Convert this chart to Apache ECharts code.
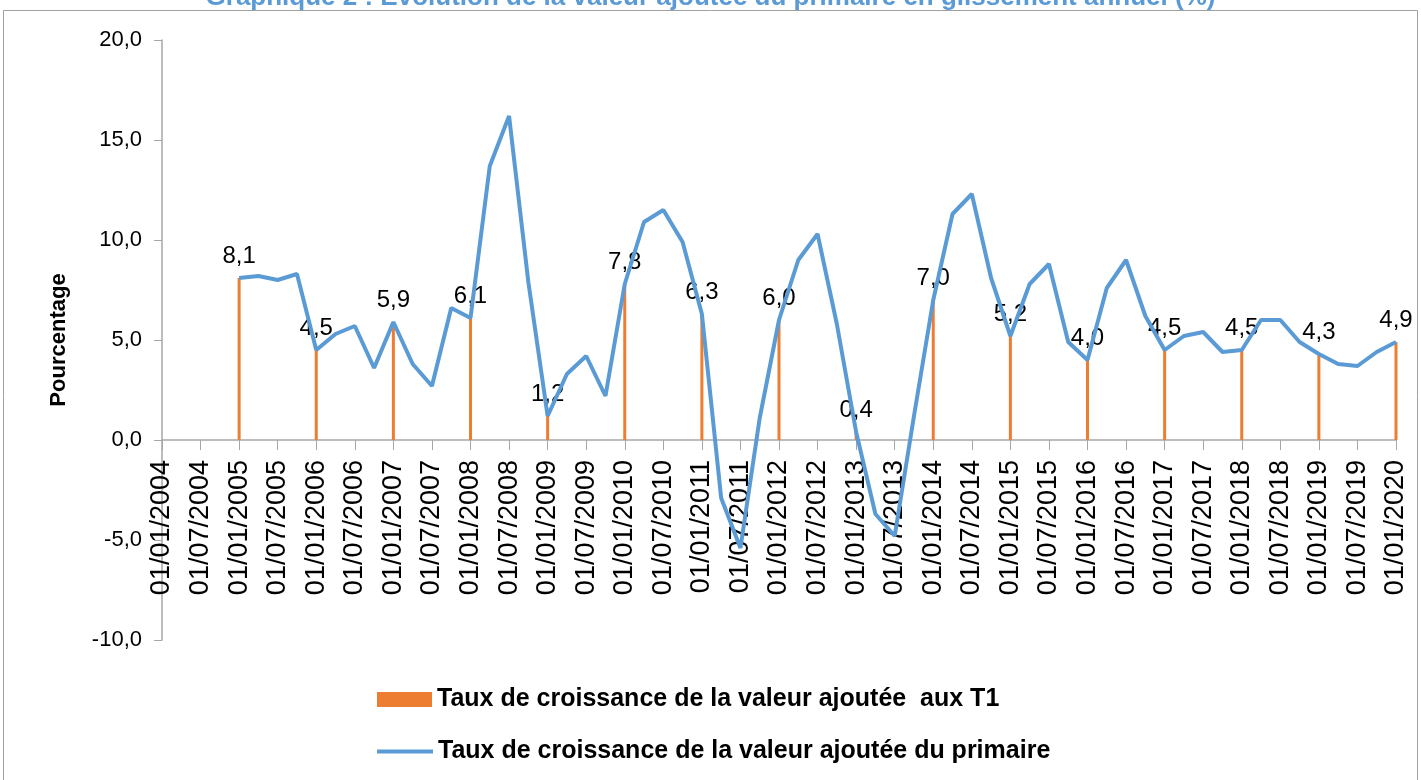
<!DOCTYPE html>
<html>
<head>
<meta charset="utf-8">
<title>Graphique 2</title>
<script src="https://cdn.jsdelivr.net/npm/echarts@6/dist/echarts.min.js"></script>
<style>
  html, body { margin: 0; padding: 0; background: #fff; }
  #myChart { width: 1421px; height: 780px; }
</style>
</head>
<body>
<div id="myChart"></div>
<script>
// categories : trimestres de 2004 à 2020
let years = []
for (let y = 2004; y <= 2020; y++) years.push(y)
let quarterMonths = ['01', '04', '07', '10']
let categories = []
years.forEach(function (y) {
  quarterMonths.forEach(function (m) {
    if (y === 2020 && m !== '01') return
    categories.push('01/' + m + '/' + y)
  })
})

// glissement annuel de la valeur ajoutée du primaire (%)
let primaireValues = [
  null, null, null, null,
  8.1, 8.2, 8.0, 8.3,
  4.5, 5.3, 5.7, 3.6,
  5.9, 3.8, 2.7, 6.6,
  6.1, 13.7, 16.2, 7.9,
  1.2, 3.3, 4.2, 2.2,
  7.8, 10.9, 11.5, 9.9,
  6.3, -2.9, -5.4, 1.1,
  6.0, 9.0, 10.3, 5.8,
  0.4, -3.7, -4.8, 1.2,
  7.0, 11.3, 12.3, 8.1,
  5.2, 7.8, 8.8, 4.9,
  4.0, 7.6, 9.0, 6.2,
  4.5, 5.2, 5.4, 4.4,
  4.5, 6.0, 6.0, 4.9,
  4.3, 3.8, 3.7, 4.4,
  4.9
]

// valeurs aux T1 (premier trimestre)
let t1Values = [
  null, null, null, null,
  8.1, null, null, null,
  4.5, null, null, null,
  5.9, null, null, null,
  6.1, null, null, null,
  1.2, null, null, null,
  7.8, null, null, null,
  6.3, null, null, null,
  6.0, null, null, null,
  0.4, null, null, null,
  7.0, null, null, null,
  5.2, null, null, null,
  4.0, null, null, null,
  4.5, null, null, null,
  4.5, null, null, null,
  4.3, null, null, null,
  4.9
]

let yTicks = [-10, -5, 0, 5, 10, 15, 20]

let titleText = 'Graphique 2 : Evolution de la valeur ajoutée du primaire en glissement annuel (%)'
let barName = 'Taux de croissance de la valeur ajoutée  aux T1'
let lineName = 'Taux de croissance de la valeur ajoutée du primaire'

let fmt = function (v) {
  return Number(v).toFixed(1).replace('.', ',')
}

let font = '"Liberation Sans", Arial, sans-serif'
let axisGrey = '#a6a6a6'
let gridHeight = 600

let chart = echarts.init(document.getElementById('myChart'))

let option = {
  animation: false,
  textStyle: { fontFamily: font },
  title: {
    text: titleText,
    left: 'center',
    top: -20,
    textStyle: { color: '#5b9bd5', fontSize: 26, fontWeight: 'bold', fontFamily: font }
  },
  graphic: [{
    type: 'rect',
    shape: { x: 3.5, y: 10.5, width: 1414, height: 800 },
    style: { fill: 'none', stroke: '#a0a0a0', lineWidth: 1 },
    silent: true
  }],
  legend: [{
    data: [{ name: barName, icon: 'rect' }],
    left: 372,
    top: 682,
    itemWidth: 55,
    itemHeight: 15,
    textStyle: { fontSize: 25, fontWeight: 'bold', color: '#000' }
  }, {
    data: [{ name: lineName, icon: 'rect' }],
    left: 372,
    top: 734,
    itemWidth: 56,
    itemHeight: 4,
    textStyle: { fontSize: 25, fontWeight: 'bold', color: '#000' }
  }],
  grid: {
    left: 162,
    right: 25,
    top: 40,
    height: gridHeight,
    outerBoundsMode: 'none'
  },
  xAxis: {
    type: 'category',
    data: categories,
    boundaryGap: false,
    position: 'bottom',
    // axe placé au niveau de 0 (-10..20 => 0 à 1/3 du bas)
    offset: -gridHeight * (0 - yTicks[0]) / (yTicks[yTicks.length - 1] - yTicks[0]),
    axisLine: { onZero: false, lineStyle: { color: axisGrey, width: 1.5 } },
    axisTick: { interval: 1, length: 10, lineStyle: { color: axisGrey } },
    axisLabel: {
      interval: 1,
      rotate: 90,
      margin: 20,
      fontSize: 27,
      color: '#000'
    }
  },
  yAxis: {
    type: 'value',
    min: yTicks[0],
    max: yTicks[yTicks.length - 1],
    interval: 5,
    name: 'Pourcentage',
    nameLocation: 'middle',
    nameGap: 92,
    nameTextStyle: { fontSize: 22, fontWeight: 'bold', color: '#000' },
    splitLine: { show: false },
    axisLine: { show: true, lineStyle: { color: axisGrey, width: 1.5 } },
    axisTick: { show: true, length: 8, lineStyle: { color: axisGrey } },
    axisLabel: {
      margin: 20,
      fontSize: 22,
      color: '#000',
      formatter: fmt
    }
  },
  series: [{
    name: barName,
    type: 'bar',
    data: t1Values,
    barWidth: 3,
    itemStyle: { color: '#ed7d31' },
    label: {
      show: true,
      position: 'top',
      distance: 10,
      fontSize: 24,
      color: '#000',
      formatter: function (p) { return fmt(p.value) }
    },
    z: 2
  }, {
    name: lineName,
    type: 'line',
    data: primaireValues,
    symbol: 'none',
    connectNulls: false,
    lineStyle: { color: '#5b9bd5', width: 4 },
    itemStyle: { color: '#5b9bd5' },
    z: 3
  }]
}

chart.setOption(option)
</script>
</body>
</html>
